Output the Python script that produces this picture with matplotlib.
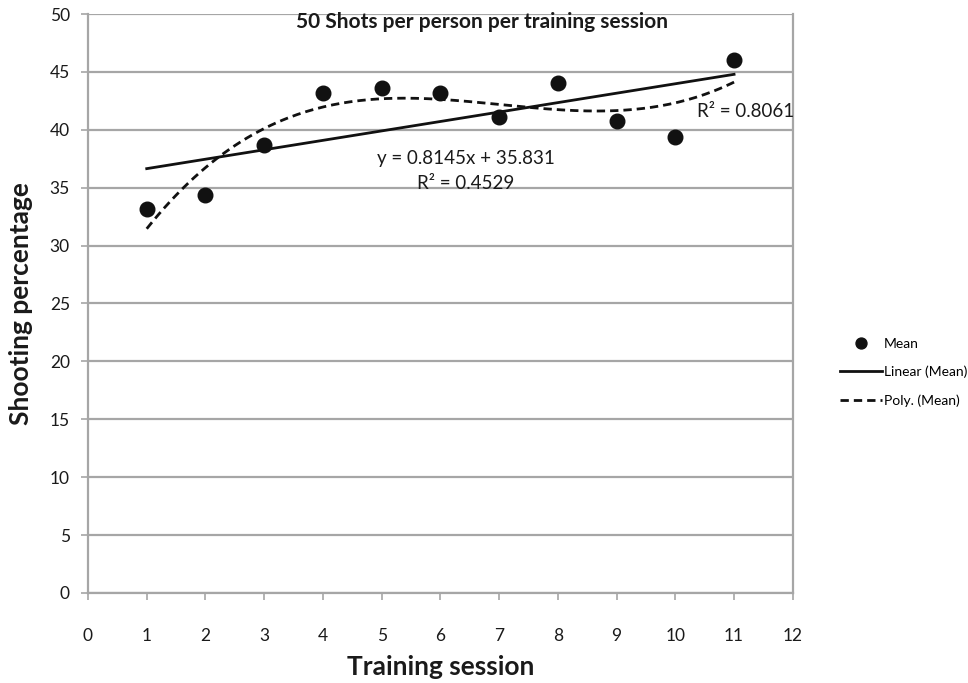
import numpy as np
import matplotlib
matplotlib.use("Agg")
import matplotlib.pyplot as plt

plt.rcParams['font.family'] = ['Lato', 'DejaVu Sans']

# Mean shooting percentage for each training session
sessions = [1, 2, 3, 4, 5, 6, 7, 8, 9, 10, 11]
mean_pct = [33.2, 34.4, 38.7, 43.2, 43.6, 43.2, 41.1, 44.0, 40.8, 39.4, 46.0]

# Linear trend as reported on the chart
lin_slope = 0.8145
lin_intercept = 35.831
lin_r2 = 0.4529
poly_r2 = 0.8061
poly_order = 3

x_ticks = list(range(0, 13))
y_ticks = list(range(0, 51, 5))

fig = plt.figure(figsize=(9.68, 6.83), dpi=100)
ax = fig.add_axes([0.0909, 0.1318, 0.819 - 0.0909, 0.9795 - 0.1318])

grid_col = '#a6a6a6'
ax.set_xlim(0, 12)
ax.set_ylim(0, 50)
ax.set_xticks(x_ticks)
ax.set_yticks(y_ticks)
ax.yaxis.grid(True, color=grid_col, linewidth=1.6)
ax.set_axisbelow(True)
for side in ['left', 'bottom', 'right', 'top']:
    ax.spines[side].set_color(grid_col)
    ax.spines[side].set_linewidth(1.6)
ax.spines['top'].set_visible(False)
ax.tick_params(axis='both', colors=grid_col, length=5, width=1.2,
               labelcolor='#1a1a1a', labelsize=12.5)
ax.tick_params(axis='x', pad=20)
ax.tick_params(axis='y', pad=8)

xs = np.array(sessions, dtype=float)
ys = np.array(mean_pct)

# Linear trendline
xl = np.array([xs.min(), xs.max()])
ax.plot(xl, lin_slope * xl + lin_intercept, color='#111111', lw=2.0,
        label='Linear (Mean)', zorder=3)

# Polynomial trendline
coef = np.polyfit(xs, ys, poly_order)
xp = np.linspace(xs.min(), xs.max(), 200)
ax.plot(xp, np.polyval(coef, xp), color='#111111', lw=2.0,
        linestyle=(0, (3.0, 1.8)), label='Poly. (Mean)', zorder=3)

ax.plot(xs, ys, 'o', color='#111111', markersize=10.5, label='Mean',
        linestyle='none', zorder=4)

ax.text(6.43, 37.5, f'y = {lin_slope}x + {lin_intercept}', ha='center',
        va='center', fontsize=13.5, color='#1a1a1a')
ax.text(6.43, 35.4, f'R² = {lin_r2}', ha='center', va='center',
        fontsize=13.5, color='#1a1a1a')
ax.text(10.37, 41.6, f'R² = {poly_r2}', ha='left', va='center',
        fontsize=13.5, color='#1a1a1a')

ax.text(6.71, 49.3, '50 Shots per person per training session', ha='center',
        va='center', fontsize=15, fontweight='bold', color='#1a1a1a')

ax.set_xlabel('Training session', fontsize=19, fontweight='bold',
              color='#1a1a1a', labelpad=8)
ax.set_ylabel('Shooting percentage', fontsize=19, fontweight='bold',
              color='#1a1a1a', labelpad=12)

handles, labels = ax.get_legend_handles_labels()
order = [labels.index('Mean'), labels.index('Linear (Mean)'),
         labels.index('Poly. (Mean)')]
fig.legend([handles[i] for i in order], [labels[i] for i in order],
           loc='center left', bbox_to_anchor=(0.855, 0.455), frameon=False,
           fontsize=10, handlelength=3.0, handletextpad=0.15,
           labelspacing=1.15, markerscale=0.75)

fig.savefig('out.png', dpi=100)
